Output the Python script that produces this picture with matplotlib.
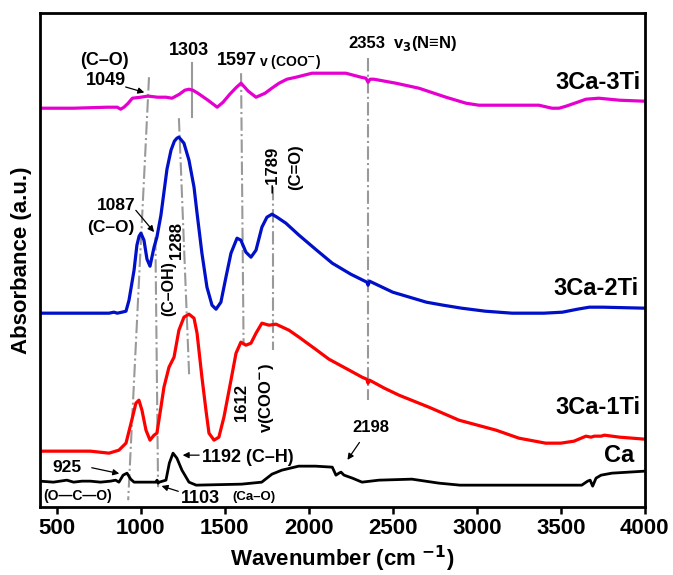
import matplotlib
matplotlib.use('Agg')
from matplotlib import pyplot as plt

plt.rcParams['font.family'] = 'Liberation Sans'
plt.rcParams['font.weight'] = 'bold'

# spectra (wavenumber, absorbance in arbitrary offset units)
wn_3ti = [400, 600, 800, 860, 880, 900, 925, 950, 1000, 1037, 1049, 1100, 1150, 1186, 1230, 1262,
          1287, 1310, 1340, 1400, 1455, 1490, 1530, 1570, 1597, 1640, 1686, 1740, 1780, 1823,
          1870, 1924, 2019, 2120, 2221, 2311, 2340, 2353, 2365, 2388, 2519, 2656, 2817, 2936,
          3013, 3210, 3370, 3448, 3490, 3531, 3600, 3650, 3727, 3850, 4000]
ab_3ti = [399, 399, 400, 400, 398, 400, 404, 409, 410, 411, 411, 410, 410, 409, 413, 417,
          418, 417, 414, 407, 400, 405, 413, 420, 424, 416, 410, 414, 419, 424,
          428, 430, 434, 434, 434, 430, 429, 425, 428, 428, 424, 419, 410, 404,
          402, 402, 402, 399, 399, 401, 405, 408, 409, 407, 406]

wn_2ti = [400, 700, 811, 840, 860, 888, 912, 930, 960, 977, 990, 1001, 1019, 1037, 1055, 1079,
          1096, 1120, 1138, 1156, 1180, 1200, 1215, 1227, 1257, 1287, 1317, 1335, 1364, 1394,
          1424, 1448, 1477, 1507, 1537, 1573, 1596, 1626, 1656, 1686, 1721, 1751, 1781, 1811,
          1864, 1942, 2040, 2140, 2250, 2346, 2353, 2362, 2500, 2600, 2700, 2800, 2910, 3050,
          3210, 3400, 3510, 3600, 3670, 3750, 4000]
ab_2ti = [194, 194, 194, 195, 194, 195, 196, 207, 237, 262, 271, 274, 267, 248, 241, 260,
          270, 292, 315, 338, 357, 366, 369, 370, 364, 347, 320, 294, 254, 220,
          202, 198, 205, 230, 254, 269, 267, 255, 250, 257, 280, 290, 293, 290,
          284, 272, 258, 244, 233, 225, 222, 226, 215, 210, 205, 202, 199, 196,
          194, 194, 195, 198, 200, 200, 199]

wn_1ti = [400, 700, 811, 870, 912, 942, 971, 989, 1007, 1031, 1055, 1079, 1096, 1120, 1138, 1168,
          1198, 1227, 1257, 1287, 1317, 1335, 1364, 1388, 1406, 1436, 1465, 1495, 1537, 1567,
          1596, 1626, 1656, 1686, 1721, 1763, 1805, 1882, 1942, 2040, 2120, 2230, 2317, 2345,
          2353, 2362, 2450, 2537, 2715, 2894, 3115, 3251, 3410, 3500, 3579, 3650, 3680, 3700,
          3740, 3760, 3850, 4000]
ab_1ti = [56, 56, 54, 57, 64, 84, 104, 107, 97, 77, 67, 72, 74, 100, 120, 140,
          150, 177, 190, 193, 189, 174, 130, 97, 74, 67, 70, 90, 127, 154,
          165, 162, 164, 174, 184, 182, 183, 177, 170, 158, 148, 138, 130, 128,
          124, 127, 119, 112, 100, 87, 77, 69, 64, 64, 66, 71, 70, 71,
          71, 72, 70, 68]

wn_ca = [400, 480, 520, 560, 600, 650, 700, 760, 820, 850, 870, 895, 918, 940, 960, 1000, 1050,
         1090, 1097, 1103, 1110, 1130, 1150, 1170, 1192, 1215, 1245, 1287, 1330, 1600, 1720,
         1781, 1840, 1940, 2040, 2140, 2162, 2180, 2192, 2210, 2260, 2317, 2418, 2614, 2775,
         2900, 3200, 3625, 3660, 3675, 3690, 3710, 3740, 3805, 4000]
ab_ca = [26, 25, 26, 27, 25, 26, 26, 25, 26, 27, 25, 32, 34, 28, 25, 25, 25,
         25, 27, 24, 25, 26, 27, 44, 54, 49, 37, 25, 22, 23, 25,
         33, 37, 41, 41, 40, 32, 34, 35, 32, 29, 25, 27, 28, 24,
         22, 22, 22, 26, 27, 21, 29, 32, 34, 36]

# peak guide lines: (x0, y0, x1, y1)
guides = [(1049, 430, 925, 7), (1087, 270, 1103, 20), (1227, 389, 1288, 132),
          (1597, 434, 1612, 162), (1789, 320, 1789, 157), (2353, 449, 2353, 107)]

fig = plt.figure(figsize=(6.73, 5.75), dpi=100)
ax = fig.add_axes([0.0594, 0.118, 0.8986, 0.859])

ax.plot(wn_3ti, ab_3ti, color='#e600d0', lw=2.3)
ax.plot(wn_2ti, ab_2ti, color='#0010c8', lw=2.3)
ax.plot(wn_1ti, ab_1ti, color='#ff0000', lw=2.3)
ax.plot(wn_ca, ab_ca, color='black', lw=2.0)

for x0, y0, x1, y1 in guides:
    ax.plot([x0, x1], [y0, y1], color='#999999', lw=1.5, ls='-.', zorder=0)
ax.plot([1303, 1303], [444, 390], color='#999999', lw=1.5, zorder=0)

ax.set_xlim(400, 4000)
ax.set_ylim(0, 494)
ax.set_xticks([500, 1000, 1500, 2000, 2500, 3000, 3500, 4000])
ax.set_yticks([])
ax.tick_params(axis='x', direction='out', length=5, width=1.8, labelsize=16, pad=3)
for s in ax.spines.values():
    s.set_linewidth(2.0)
for lab in ax.get_xticklabels():
    lab.set_fontweight('bold')

ax.set_xlabel('Wavenumber (cm $^{\\mathbf{-1}}$)', fontsize=16, fontweight='bold', labelpad=3)
ax.set_ylabel('Absorbance (a.u.)', fontsize=16, fontweight='bold', labelpad=6)

kw = dict(ha='center', va='center', fontweight='bold')
arr = dict(arrowstyle='-|>', color='black', lw=0.9, mutation_scale=9)

# sample names
ax.text(3975, 425, '3Ca-3Ti', ha='right', va='center', fontsize=17, fontweight='bold')
ax.text(3965, 219, '3Ca-2Ti', ha='right', va='center', fontsize=17, fontweight='bold')
ax.text(3975, 100, '3Ca-1Ti', ha='right', va='center', fontsize=17, fontweight='bold')
ax.text(3935, 52, 'Ca', ha='right', va='center', fontsize=17, fontweight='bold')

# top annotations
ax.text(781, 447, '(C\u2013O)', fontsize=13, **kw)
ax.text(793, 427, '1049', fontsize=13, **kw)
ax.annotate('', xy=(1037, 414), xytext=(894, 421), arrowprops=arr)
ax.text(1287, 457, '1303', fontsize=13, **kw)
ax.text(1573, 447, '1597', fontsize=13, **kw)
ax.text(1890, 445, 'v (COO$^{-}$)', fontsize=10, **kw)
ax.text(2346, 464, '2353', fontsize=12, **kw)
ax.text(2690, 464, 'v$_{3}$(N\u2261N)', fontsize=12, **kw)

# middle annotations
ax.text(852, 302, '1087', fontsize=12.5, **kw)
ax.text(823, 280, '(C\u2013O)', fontsize=12.5, **kw)
ax.annotate('', xy=(1090, 273), xytext=(960, 299), arrowprops=arr)
ax.text(1210, 267, '1288', fontsize=12, rotation=90, **kw)
ax.text(1168, 219, '(C\u2013OH)', fontsize=11.5, rotation=90, **kw)
ax.text(1787, 337, '\u20131789', fontsize=12, rotation=90, **kw)
ax.text(1924, 340, '(C=O)', fontsize=12, rotation=90, **kw)
ax.text(1602, 105, '1612', fontsize=12, rotation=90, **kw)
ax.text(1751, 109, 'v(COO$^{-}$)', fontsize=12, rotation=90, **kw)

# bottom annotations
ax.text(561, 40, '925', fontsize=12.5, **kw)
ax.annotate('', xy=(888, 33), xytext=(692, 40), arrowprops=arr)
ax.text(626, 11, '(O\u2014C\u2014O)', fontsize=10, **kw)
ax.text(1358, 9, '1103', fontsize=13, **kw)
ax.annotate('', xy=(1108, 22), xytext=(1239, 15), arrowprops=arr)
ax.text(1674, 10, '(Ca\u2013O)', fontsize=9.5, **kw)
ax.text(1640, 50, '1192 (C\u2013H)', fontsize=13, **kw)
ax.annotate('', xy=(1233, 52), xytext=(1364, 52), arrowprops=arr)
ax.text(2370, 80, '2198', fontsize=12, **kw)
ax.annotate('', xy=(2221, 45), xytext=(2311, 67), arrowprops=arr)

fig.savefig('out.png', dpi=100)
